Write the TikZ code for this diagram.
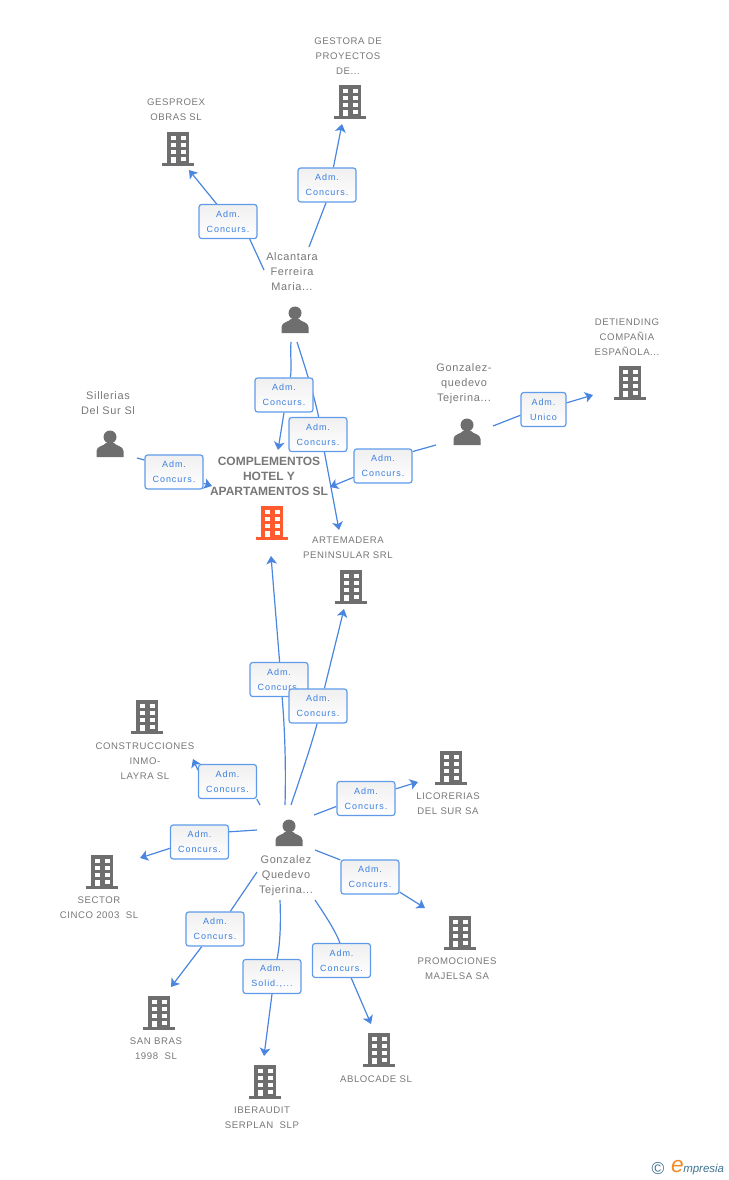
\documentclass[tikz,border=0pt]{standalone}
\usepackage{fontspec}
\setmainfont{Liberation Sans}
\newfontfamily\labelfont[LetterSpace=6]{Liberation Sans}
\newfontfamily\roleFont[LetterSpace=11]{Liberation Sans}
\usetikzlibrary{arrows.meta,backgrounds}
\definecolor{icongrey}{HTML}{6E6E6E}
\definecolor{textgrey}{HTML}{777777}
\definecolor{linkblue}{HTML}{4A86E0}
\definecolor{boxblue}{HTML}{5F9BEA}
\definecolor{rolecolor}{HTML}{3B7FE0}
\definecolor{mainorange}{HTML}{FF5B2E}
\definecolor{logoblue}{HTML}{3F7390}
\definecolor{logoorange}{HTML}{F08A24}
\tikzset{
  rolebox/.style={draw=boxblue,line width=0.9pt,rounded corners=2pt,top color=black!6,bottom color=white,
    minimum width=43.5pt,minimum height=25.5pt,inner sep=0pt,align=center,text=rolecolor,
    font=\roleFont\fontsize{6.75}{11.25}\selectfont},
  namelabel/.style={align=center,text=textgrey,inner sep=0pt,font=\labelfont\fontsize{7.2}{11.25}\selectfont},
  personlabel/.style={namelabel,font=\labelfont\fontsize{8.2}{11.25}\selectfont},
  mainlabel/.style={align=center,text=textgrey,inner sep=0pt,font=\bfseries\fontsize{9}{11.25}\selectfont},
  link/.style={draw=linkblue,line width=0.9pt},
  linkto/.style={link,-{Stealth[length=6pt,width=8pt,inset=1.5pt]}},
  pics/building/.style={code={
    \fill[#1] (-11,-17) rectangle (11,14);
    \fill[#1] (-16,14) rectangle (16,17);
    \foreach \yy in {-13,-6,1}{
      \fill[white] (-7,\yy) rectangle (-2,\yy+4);
      \fill[white] (3,\yy) rectangle (8,\yy+4);
    }
    \fill[white] (-7,8) rectangle (-2,14);
    \fill[white] (3,8) rectangle (8,12);
  }},
  pics/person/.style={code={
    \fill[icongrey] (0,-7) circle (6.5);
    \fill[icongrey] (-13.5,13) -- (-13.5,7) .. controls (-13.5,2) and (-6,2) .. (-4,-1)
      -- (4,-1) .. controls (6,2) and (13.5,2) .. (13.5,7) -- (13.5,13) -- cycle;
  }}
}
\begin{document}
\begin{tikzpicture}[x=0.75pt,y=-0.75pt]
\useasboundingbox (0,0) rectangle (728,1180);

% icons
\foreach \x/\y in {350/102,178/149,630/383,351/587,147/717,451/768,102/872,460/933,159/1013,265/1082,379/1050}
  \pic at (\x,\y) {building=icongrey};
\pic at (272,523) {building=mainorange};
\foreach \x/\y in {295/320,110/444,467/432,289/833}
  \pic at (\x,\y) {person};

% names
\node[namelabel] (gestora) at (348,56) {GESTORA DE\\PROYECTOS\\DE...};
\node[namelabel] (gesproex) at (176,110) {GESPROEX\\OBRAS SL};
\node[personlabel] (alcantara) at (292,272) {Alcantara\\Ferreira\\Maria...};
\node[namelabel] (detiending) at (627,337) {DETIENDING\\COMPAÑIA\\ESPAÑOLA...};
\node[personlabel] (quedevoa) at (464,384) {Gonzalez-\\quedevo\\Tejerina...};
\node[personlabel] (sillerias) at (108,403) {Sillerias\\Del Sur Sl};
\node[mainlabel] (complementos) at (269,476) {COMPLEMENTOS\\HOTEL Y\\APARTAMENTOS SL};
\node[namelabel] (artemadera) at (348,548) {ARTEMADERA\\PENINSULAR SRL};
\node[namelabel] (construcciones) at (145,761) {CONSTRUCCIONES\\INMO-\\LAYRA SL};
\node[namelabel] (licorerias) at (448,804) {LICORERIAS\\DEL SUR SA};
\node[personlabel] (quedevob) at (286,876) {Gonzalez\\Quedevo\\Tejerina...};
\node[namelabel] (sector) at (99,908) {SECTOR\\CINCO 2003\ \ SL};
\node[namelabel] (promociones) at (457,969) {PROMOCIONES\\MAJELSA SA};
\node[namelabel] (sanbras) at (156,1049) {SAN BRAS\\1998\ \ SL};
\node[namelabel] (ablocade) at (376,1079) {ABLOCADE SL};
\node[namelabel] (iberaudit) at (262,1118) {IBERAUDIT\\SERPLAN\ \ SLP};

% role boxes
\foreach \name/\x/\y in {bgesproex/228/221.5,bgestora/327/185,bcompa/284/395,bartea/318/434.5,
  bsillerias/174/472,bcompc/383/466,bcompb/279/679.5,barteb/318/706,bconstr/227.5/781.5,
  blicor/366/798.5,bsector/199.5/842,bpromo/370/877,bsanbras/215/929,bablo/341.5/960.5}
  \node[rolebox] (\name) at (\x,\y) {Adm.\\Concurs.};
\node[rolebox,minimum width=33.75pt] (bdetiend) at (543.5,409.5) {Adm.\\Unico};
\node[rolebox] (biber) at (272,976.5) {Adm.\\Solid.,...};

% free ends
\foreach \name/\x/\y in {sa/264/270,sb/309/247,sc/291/342,sd/297/342,se/137/458,sf/436/445,sg/493/426,
  sh/285/805,si/291/805,sj/260/805,sk/314/815,sl/257/830,sm/315/850,sn/257/872,so/280/900,sp/315/900,
  ea/189/170,eb/342/124,ec/278/450,ed/339/530,ee/212/486,ef/330/487,eg/593/395,
  eh/271/556,ei/344/609,ej/193/759,ek/418/782,el/140/858,em/425/908,en/171/987,eo/264/1056,ep/371/1024}
  \coordinate (\name) at (\x,\y);

\begin{scope}[on background layer]
\draw[link] (sa) -- (bgesproex.-39);
\draw[linkto] (bgesproex.123) -- (ea);
\draw[link] (sb) -- (bgestora.-93);
\draw[linkto] (bgestora.70) -- (eb);
\draw[link] (sc) .. controls (290,355) and (292,365) .. (bcompa.70);
\draw[linkto] (bcompa.-90) -- (ec);
\draw[link] (sd) .. controls (306,370) and (314,395) .. (bartea.88);
\draw[linkto] (bartea.-70) -- (ed);
\draw[link] (se) -- (bsillerias.158);
\draw[linkto] (bsillerias.-21) -- (ee);
\draw[link] (sf) -- (bcompc.26);
\draw[linkto] (bcompc.201) -- (ef);
\draw[link] (sg) -- (bdetiend.194);
\draw[linkto] (bdetiend.16) -- (eg);
\draw[link] (sh) .. controls (286,770) and (285,730) .. (bcompb.-80);
\draw[linkto] (bcompb.88) -- (eh);
\draw[link] (si) .. controls (300,778) and (310,750) .. (barteb.-93);
\draw[linkto] (barteb.70) -- (ei);
\draw[link] (sj) -- (bconstr.-31);
\draw[linkto] (bconstr.159) -- (ej);
\draw[link] (sk) -- (blicor.195);
\draw[linkto] (blicor.18) -- (ek);
\draw[link] (sl) -- (bsector.19);
\draw[linkto] (bsector.192) -- (el);
\draw[link] (sm) -- (bpromo.150);
\draw[linkto] (bpromo.-27) -- (em);
\draw[link] (sn) -- (bsanbras.49);
\draw[linkto] (bsanbras.233) -- (en);
\draw[link] (so) .. controls (281,925) and (280,945) .. (biber.74);
\draw[linkto] (biber.-90) -- (eo);
\draw[link] (sp) .. controls (325,915) and (335,930) .. (bablo.95);
\draw[linkto] (bablo.-61) -- (ep);
\end{scope}

% logo
\node[text=logoblue,inner sep=0pt,font=\fontsize{13}{13}\selectfont] (logoc) at (658,1168.5) {\copyright};
\node[text=logoorange,inner sep=0pt,font=\itshape\fontsize{17}{17}\selectfont] (logoe) at (677.5,1166.5) {e};
\node[text=logoblue,inner sep=0pt,anchor=base west,font=\itshape\fontsize{8.6}{10}\selectfont] (logot) at (683,1172) {mpresia};
\end{tikzpicture}
\end{document}
